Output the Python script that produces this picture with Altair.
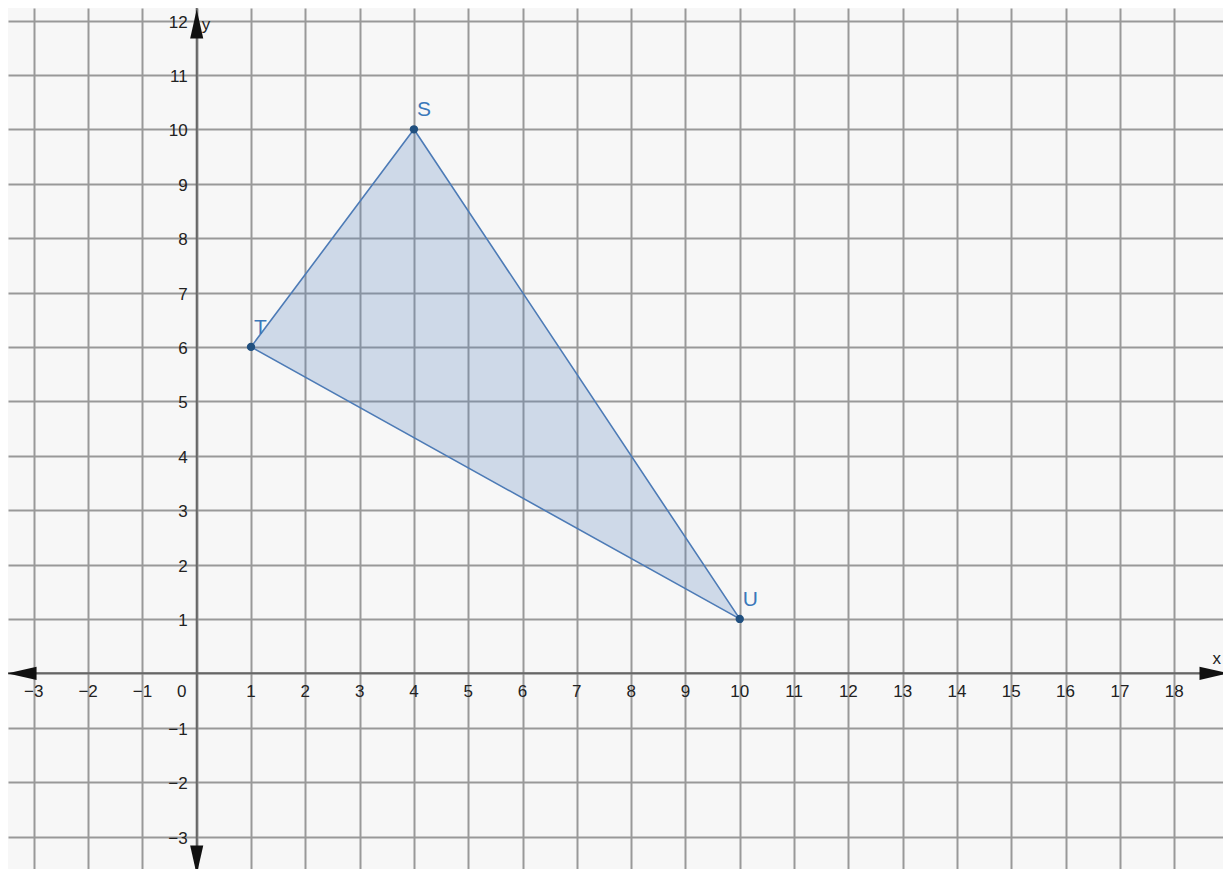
import altair as alt
import pandas as pd

# Triangle vertices
pt_names = ["S", "T", "U"]
pt_x = [4, 1, 10]
pt_y = [10, 6, 1]

# Grid / tick values
x_ticks = list(range(-3, 19))
y_ticks = list(range(-3, 13))

# Arrowheads (position and direction in degrees)
arrow_x = [-3.217, 18.735, 0, 0]
arrow_y = [0, 0, 11.936, -3.432]
arrow_angle = [180, 0, 270, 90]

X_DOM = [-3.475, 18.899]
Y_DOM = [-3.597, 12.23]

W, H = 1215, 861

xs = alt.Scale(domain=X_DOM, nice=False, zero=False)
ys = alt.Scale(domain=Y_DOM, nice=False, zero=False)

def minus(v):
    return str(v).replace("-", "\u2212")

grid_color = "#999999"

# Grid via axes
grid_df = pd.DataFrame({"x": [0], "y": [0]})
grid = alt.Chart(grid_df).mark_point(opacity=0).encode(
    x=alt.X("x:Q", scale=xs, axis=alt.Axis(values=x_ticks, grid=True, gridColor=grid_color,
                                           gridWidth=2, gridOpacity=1, labels=False, ticks=False,
                                           domain=False, title=None)),
    y=alt.Y("y:Q", scale=ys, axis=alt.Axis(values=y_ticks, grid=True, gridColor=grid_color,
                                           gridWidth=2, gridOpacity=1, labels=False, ticks=False,
                                           domain=False, title=None)),
)

# Triangle
tri_df = pd.DataFrame({
    "x": pt_x + [pt_x[0]],
    "y": pt_y + [pt_y[0]],
    "o": list(range(len(pt_x) + 1)),
})
tri = alt.Chart(tri_df).mark_line(
    fill="#5a83bd", fillOpacity=0.26, stroke="#4d7bb6", strokeWidth=1.6
).encode(
    x=alt.X("x:Q", scale=xs), y=alt.Y("y:Q", scale=ys), order="o:Q"
)

# Axis lines
xaxis_df = pd.DataFrame({"x1": [X_DOM[0]], "x2": [X_DOM[1]], "y": [0]})
xaxis = alt.Chart(xaxis_df).mark_rule(color="#666666", strokeWidth=2).encode(
    x=alt.X("x1:Q", scale=xs), x2="x2:Q", y=alt.Y("y:Q", scale=ys)
)
yaxis_df = pd.DataFrame({"y1": [Y_DOM[0]], "y2": [Y_DOM[1]], "x": [0]})
yaxis = alt.Chart(yaxis_df).mark_rule(color="#666666", strokeWidth=2).encode(
    y=alt.Y("y1:Q", scale=ys), y2="y2:Q", x=alt.X("x:Q", scale=xs)
)

# Arrowheads
arr_df = pd.DataFrame({"x": arrow_x, "y": arrow_y, "a": arrow_angle})
arrows = alt.Chart(arr_df).mark_point(
    shape="M 1 0 L -1 -0.45 L -1 0.45 Z", filled=True, color="#111111", opacity=1, size=850
).encode(
    x=alt.X("x:Q", scale=xs), y=alt.Y("y:Q", scale=ys),
    angle=alt.Angle("a:Q", scale=None),
)

label_font = "Liberation Sans"
label_color = "#222222"
FS = 17

# X tick labels
xl = [v for v in x_ticks if v != 0]
xl_df = pd.DataFrame({"x": xl, "y": [0] * len(xl), "t": [minus(v) for v in xl]})
xlabels = alt.Chart(xl_df).mark_text(
    font=label_font, fontSize=FS, color=label_color, baseline="middle", align="center", dy=19
).encode(x=alt.X("x:Q", scale=xs), y=alt.Y("y:Q", scale=ys), text="t:N")

zero_df = pd.DataFrame({"x": [0], "y": [0], "t": ["0"]})
zlabel = alt.Chart(zero_df).mark_text(
    font=label_font, fontSize=FS, color=label_color, baseline="middle", align="center", dx=-15, dy=19
).encode(x=alt.X("x:Q", scale=xs), y=alt.Y("y:Q", scale=ys), text="t:N")

# Y tick labels
yl = [v for v in y_ticks if v != 0]
yl_df = pd.DataFrame({"x": [0] * len(yl), "y": yl, "t": [minus(v) for v in yl]})
ylabels = alt.Chart(yl_df).mark_text(
    font=label_font, fontSize=FS, color=label_color, baseline="middle", align="right", dx=-9, dy=2
).encode(x=alt.X("x:Q", scale=xs), y=alt.Y("y:Q", scale=ys), text="t:N")

# Axis names
an_df = pd.DataFrame({"x": [X_DOM[1], 0], "y": [0, Y_DOM[1]], "t": ["x", "y"]})
xname = alt.Chart(an_df.iloc[[0]]).mark_text(
    font=label_font, fontSize=FS, color=label_color, align="right", baseline="middle", dx=-2, dy=-14
).encode(x=alt.X("x:Q", scale=xs), y=alt.Y("y:Q", scale=ys), text="t:N")
yname = alt.Chart(an_df.iloc[[1]]).mark_text(
    font=label_font, fontSize=FS, color=label_color, align="left", baseline="middle", dx=5, dy=17
).encode(x=alt.X("x:Q", scale=xs), y=alt.Y("y:Q", scale=ys), text="t:N")

# Points and labels
pts_df = pd.DataFrame({"x": pt_x, "y": pt_y, "n": pt_names})
pts = alt.Chart(pts_df).mark_circle(color="#21507f", size=70, opacity=1).encode(
    x=alt.X("x:Q", scale=xs), y=alt.Y("y:Q", scale=ys)
)
plabels = alt.Chart(pts_df).mark_text(
    font=label_font, fontSize=21, color="#3a78ba", align="left", baseline="middle", dx=3, dy=-19
).encode(x=alt.X("x:Q", scale=xs), y=alt.Y("y:Q", scale=ys), text="n:N")

chart = alt.layer(
    grid, tri, xaxis, yaxis, arrows, xlabels, zlabel, ylabels, xname, yname, pts, plabels
).properties(
    width=W, height=H, padding=0, autosize=alt.AutoSizeParams(type="none"),
    background="#f7f7f7",
).configure_view(stroke=None)

chart.save("out.html", embed_options={"renderer": "svg", "actions": False})
